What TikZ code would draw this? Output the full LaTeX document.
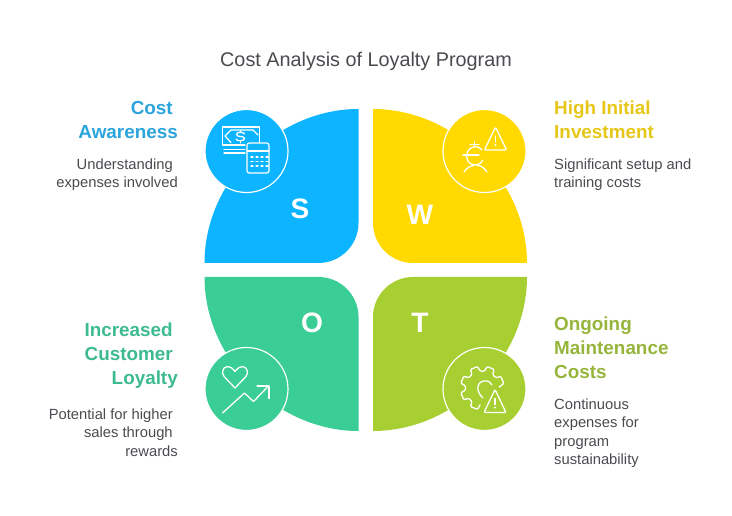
\documentclass[tikz,border=0pt]{standalone}
\usepackage{fontspec}
\setmainfont{Liberation Sans}
\usepackage{xcolor}
\definecolor{swotblue}{HTML}{0DB4FF}
\definecolor{swotyellow}{HTML}{FFD900}
\definecolor{swotgreen}{HTML}{3BCD96}
\definecolor{swotlime}{HTML}{A8CF31}
\definecolor{headblue}{HTML}{2BA4DC}
\definecolor{headyellow}{HTML}{E6C616}
\definecolor{headgreen}{HTML}{3DBB8F}
\definecolor{headlime}{HTML}{96B53C}
\definecolor{bodygrey}{HTML}{4A4A50}
\newcommand{\SwotPetal}[5]{\fill[#5,shift={(#1,#2)},xscale=#3,yscale=#4] (0,-154) -- (0,-40) .. controls (0,-18) and (-18,0) .. (-40,0) -- (-154,0) .. controls (-154,-82) and (-82,-154) .. (0,-154) -- cycle;}
\newcommand{\SwotCircle}[3]{\filldraw[#3,draw=white,line width=1pt] (#1,#2) circle (41.5);}
\newcommand{\SwotWarn}[2]{\draw[iconline,rounded corners=1pt] (#1,#2) -- ++(11,23) -- ++(-22,0) -- cycle; \draw[iconline] (#1,#2+9) -- ++(0,6); \fill[white] (#1,#2+18) circle (1.1);}
\newcommand{\Tail}{\mbox{\kern4.3pt}}
\usetikzlibrary{positioning}
\tikzset{
	iconline/.style={draw=white,line width=1.1pt,line cap=round,line join=round},
	heading/.style={inner sep=0pt,font=\fontsize{16.1}{20.5}\selectfont\bfseries},
	bodytext/.style={inner sep=0pt,text=bodygrey,font=\fontsize{12.6}{15.4}\selectfont},
	letter/.style={inner sep=0pt,text=white,font=\fontsize{24}{24}\selectfont\bfseries}
}
\begin{document}
\begin{tikzpicture}[x=0.03cm,y=-0.03cm]
		\useasboundingbox (0,0) rectangle (732,516);
		\node[inner sep=0pt,text=bodygrey,font=\fontsize{16.9}{20}\selectfont] (title) at (366,61) {Cost Analysis of Loyalty Program};
		% Lepestki
		\SwotPetal{358.5}{263}{1}{1}{swotblue}
		\SwotPetal{373}{263}{-1}{1}{swotyellow}
		\SwotPetal{358.5}{277}{1}{-1}{swotgreen}
		\SwotPetal{373}{277}{-1}{-1}{swotlime}
		\node[letter] (letterS) at (300,209) {S};
		\node[letter] (letterW) at (420,215) {W};
		\node[letter] (letterO) at (312,323) {O};
		\node[letter] (letterT) at (420,323) {T};
		\SwotCircle{246.5}{151}{swotblue}
		\SwotCircle{484.5}{151}{swotyellow}
		\SwotCircle{246.5}{389}{swotgreen}
		\SwotCircle{484.5}{389}{swotlime}
		% Den'gi i kal'kulyator
		\draw[iconline] (259.5,142) -- (259.5,127) -- (222.5,127) -- (222.5,145) -- (245,145);
		\draw[iconline] (225,136) -- (231,130) -- (253,130) -- (258,135);
		\draw[iconline] (225,136) -- (231,142.5);
		\draw[iconline] (244.5,134) .. controls (243.5,131.5) and (236.5,131.5) .. (236.5,134.5) .. controls (236.5,137.5) and (244.5,135.5) .. (244.5,138.5) .. controls (244.5,141.5) and (236.5,141.5) .. (236,139);
		\draw[iconline] (240.3,130.5) -- (240.3,132);
		\draw[iconline] (240.3,141) -- (240.3,143);
		\foreach \y in {149.5,153}{
			\draw[iconline] (224,\y) -- (245,\y);
		}
		\draw[iconline,rounded corners=2pt] (247,143) rectangle (269,173);
		\draw[iconline] (247,151) -- (269,151);
		\foreach \y in {157,161.5,166}{
			\foreach \x in {251,256,261,266}{
				\draw[iconline] (\x,\y) -- ++(2,0);
			}
		}
		% Evro i chelovek
		\SwotWarn{495.5}{127}
		\draw[iconline] (482,150) .. controls (479,146) and (474,146) .. (471,148) .. controls (465,152) and (465,160) .. (471,164) .. controls (475,166) and (480,165) .. (483,160);
		\draw[iconline] (463,155) -- (479,155);
		\draw[iconline] (470,144.5) -- (479,144.5);
		\draw[iconline] (474.5,142) -- (474.5,147);
		\draw[iconline] (464,172) .. controls (467,167) and (471,166) .. (474,165.5);
		\draw[iconline] (487,172) .. controls (484,167) and (480,165.5) .. (477,165.5);
		% Serdce i strelka
		\draw[iconline] (235,388) -- (224.5,377) .. controls (219,370) and (226,364) .. (231,367.5) .. controls (233,369) and (234,370) .. (235,371.5) .. controls (236,370) and (237,369) .. (239,367.5) .. controls (244,364) and (251,370) .. (245.5,377) -- cycle;
		\draw[iconline] (222.5,413) -- (244.5,393) -- (253.5,401.5) -- (268.5,386);
		\draw[iconline] (257,386) -- (269,386) -- (269,398.5);
		% Shesterenka
		\begin{scope}[shift={(482.3,388)}]
			\draw[iconline,rounded corners=1pt] (-3:17) -- (-12:22) -- (-32:22) -- (-37:17)
				\foreach \a in {-67.5,-112.5,-157.5,157.5,112.5}{
					-- ({\a+15}:17) -- ({\a+10}:22) -- ({\a-10}:22) -- ({\a-15}:17)
				};
		\end{scope}
		\draw[iconline] (483,398) .. controls (476,392) and (476,382) .. (484,381) .. controls (488,380.5) and (491,382) .. (492,385);
		\SwotWarn{495}{389.5}
		% Podpisi
		\node[heading,text=headblue,align=right,anchor=north east] (headS) at (178,101) {Cost\Tail\\Awareness};
		\node[bodytext,align=right,anchor=north east] (bodyS) at (178,159) {Understanding\Tail\\expenses involved};
		\node[heading,text=headyellow,align=left,anchor=north west] (headW) at (554,101) {High Initial\\Investment};
		\node[bodytext,align=left,anchor=north west] (bodyW) at (554,159) {Significant setup and\\training costs};
		\node[heading,text=headgreen,align=right,anchor=north east] (headO) at (178,323) {Increased\Tail\\Customer\Tail\\Loyalty};
		\node[bodytext,align=right,anchor=north east] (bodyO) at (178,409) {Potential for higher\Tail\\sales through\Tail\\rewards};
		\node[heading,text=headlime,align=left,anchor=north west] (headT) at (554,317) {Ongoing\\Maintenance\\Costs};
		\node[bodytext,align=left,anchor=north west] (bodyT) at (554,399) {Continuous\\expenses for\\program\\sustainability};
\end{tikzpicture}
\end{document}
